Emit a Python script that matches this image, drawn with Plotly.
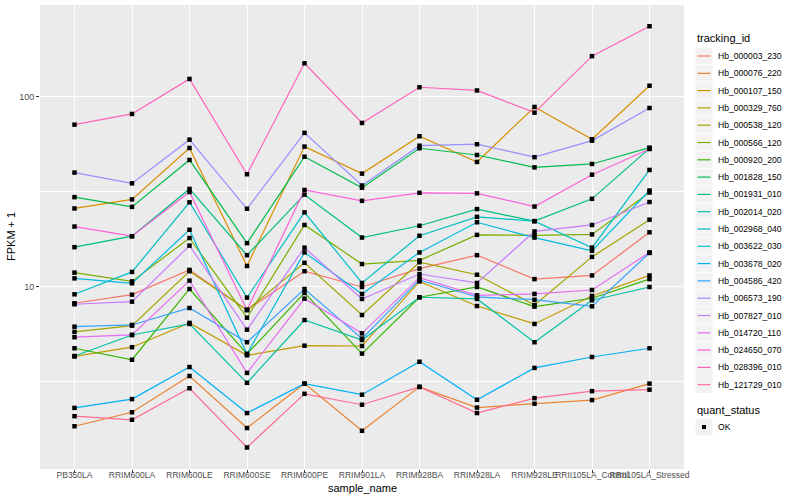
import plotly.graph_objects as go

categories = ["PB350LA", "RRIM600LA", "RRIM600LE", "RRIM600SE", "RRIM600PE", "RRIM901LA",
              "RRIM928BA", "RRIM928LA", "RRIM928LE", "RRII105LA_Control", "RRII105LA_Stressed"]

Hb_000003_230 = [8.21, 9.11, 12.3, 7.57, 12.1, 10.0, 12.5, 14.7, 11.0, 11.5, 19.4]
Hb_000076_220 = [1.85, 2.19, 3.40, 1.81, 3.10, 1.75, 2.98, 2.32, 2.43, 2.54, 3.10]
Hb_000107_150 = [25.9, 28.9, 53.9, 12.9, 54.8, 39.5, 62.1, 45.5, 88.6, 59.9, 114.6]
Hb_000329_760 = [4.31, 4.82, 6.47, 4.37, 4.91, 4.89, 10.7, 7.94, 6.39, 8.97, 11.5]
Hb_000538_120 = [5.80, 6.26, 12.1, 7.57, 13.4, 7.12, 13.5, 11.6, 8.04, 14.4, 22.6]
Hb_000566_120 = [11.9, 10.7, 18.1, 6.89, 21.2, 13.2, 13.8, 18.8, 18.7, 18.9, 31.4]
Hb_000920_200 = [4.76, 4.14, 9.76, 4.44, 9.30, 4.46, 8.83, 10.0, 7.88, 8.72, 11.0]
Hb_001828_150 = [29.7, 26.4, 46.6, 17.0, 48.5, 33.3, 53.7, 49.5, 42.6, 44.4, 54.1]
Hb_001931_010 = [16.2, 18.5, 32.8, 14.7, 30.6, 18.2, 21.0, 25.7, 22.2, 29.1, 53.6]
Hb_002014_020 = [4.33, 5.59, 6.39, 3.13, 6.70, 5.26, 8.83, 8.65, 5.12, 8.51, 10.0]
Hb_002968_040 = [9.15, 12.0, 27.9, 8.79, 24.7, 10.5, 18.6, 23.4, 22.2, 16.1, 41.3]
Hb_003622_030 = [11.1, 10.45, 20.0, 4.44, 15.2, 9.19, 15.2, 21.9, 18.2, 15.5, 32.2]
Hb_003678_020 = [2.31, 2.57, 3.79, 2.17, 3.10, 2.71, 4.04, 2.55, 3.75, 4.28, 4.76]
Hb_004586_420 = [6.18, 6.31, 7.75, 5.12, 9.76, 5.35, 10.9, 8.86, 8.57, 7.91, 15.1]
Hb_006573_190 = [40.0, 35.1, 59.6, 25.8, 64.7, 34.2, 55.4, 56.4, 48.2, 58.9, 87.5]
Hb_007827_010 = [8.11, 8.37, 16.5, 5.96, 16.1, 8.65, 11.7, 10.5, 19.6, 21.2, 28.0]
Hb_014720_110 = [5.44, 5.59, 10.8, 3.53, 8.68, 5.70, 11.2, 9.04, 9.19, 9.64, 15.2]
Hb_024650_070 = [20.8, 18.5, 31.6, 7.57, 32.4, 28.4, 31.3, 31.1, 26.5, 39.0, 53.2]
Hb_028396_010 = [71.5, 81.4, 124.4, 39.2, 150.4, 73.0, 112.5, 108.2, 82.7, 164.0, 235.6]
Hb_121729_010 = [2.09, 2.00, 2.93, 1.43, 2.74, 2.40, 2.98, 2.17, 2.60, 2.83, 2.88]

series = {
    "Hb_000003_230": Hb_000003_230, "Hb_000076_220": Hb_000076_220,
    "Hb_000107_150": Hb_000107_150, "Hb_000329_760": Hb_000329_760,
    "Hb_000538_120": Hb_000538_120, "Hb_000566_120": Hb_000566_120,
    "Hb_000920_200": Hb_000920_200, "Hb_001828_150": Hb_001828_150,
    "Hb_001931_010": Hb_001931_010, "Hb_002014_020": Hb_002014_020,
    "Hb_002968_040": Hb_002968_040, "Hb_003622_030": Hb_003622_030,
    "Hb_003678_020": Hb_003678_020, "Hb_004586_420": Hb_004586_420,
    "Hb_006573_190": Hb_006573_190, "Hb_007827_010": Hb_007827_010,
    "Hb_014720_110": Hb_014720_110, "Hb_024650_070": Hb_024650_070,
    "Hb_028396_010": Hb_028396_010, "Hb_121729_010": Hb_121729_010,
}

colors = ["#F8766D", "#EA8331", "#D89000", "#C09B00", "#A3A500", "#7CAE00", "#39B600",
          "#00BB4E", "#00BF7D", "#00C1A3", "#00BFC4", "#00BAE0", "#00B0F6", "#35A2FF",
          "#9590FF", "#C77CFF", "#E76BF3", "#FA62DB", "#FF62BC", "#FF6C91"]

FONT = "Liberation Sans"
W, H = 800, 500
L, R, T, B = 40, 116, 5, 31
PW, PH = W - L - R, H - T - B


def px(x):
    return (x - L) / PW


def py(y):
    return (H - B - y) / PH


fig = go.Figure()

for (name, vals), col in zip(series.items(), colors):
    fig.add_trace(go.Scatter(x=categories, y=vals, mode="lines", name=name,
                             line=dict(color=col, width=1.2), showlegend=False))

all_x, all_y = [], []
for vals in series.values():
    all_x += categories
    all_y += vals
fig.add_trace(go.Scatter(x=all_x, y=all_y, mode="markers", name="OK",
                         marker=dict(color="black", symbol="square", size=4.5),
                         showlegend=False))

shapes, annos = [], []
# tracking_id legend (drawn manually for ggplot-like spacing)
annos.append(dict(x=px(695), y=py(38), xref="paper", yref="paper", text="tracking_id",
                  showarrow=False, xanchor="left", yanchor="middle",
                  font=dict(size=11, color="black", family=FONT)))
step = 17.3
for i, (name, col) in enumerate(zip(series.keys(), colors)):
    yc = 56 + i * step
    shapes.append(dict(type="rect", xref="paper", yref="paper",
                       x0=px(695.5), x1=px(712.5), y0=py(yc - 8.3), y1=py(yc + 8.3),
                       fillcolor="#F2F2F2", line=dict(width=0), layer="above"))
    shapes.append(dict(type="line", xref="paper", yref="paper",
                       x0=px(697.5), x1=px(710.5), y0=py(yc), y1=py(yc),
                       line=dict(color=col, width=1.2), layer="above"))
    annos.append(dict(x=px(716), y=py(yc), xref="paper", yref="paper", text=name,
                      showarrow=False, xanchor="left", yanchor="middle",
                      font=dict(size=8.6, color="black", family=FONT)))

# quant_status legend
annos.append(dict(x=px(695), y=py(410), xref="paper", yref="paper", text="quant_status",
                  showarrow=False, xanchor="left", yanchor="middle",
                  font=dict(size=11, color="black", family=FONT)))
shapes.append(dict(type="rect", xref="paper", yref="paper",
                   x0=px(695.5), x1=px(712.5), y0=py(427 - 8.3), y1=py(427 + 8.3),
                   fillcolor="#F2F2F2", line=dict(width=0), layer="above"))
shapes.append(dict(type="rect", xref="paper", yref="paper",
                   x0=px(702), x1=px(706), y0=py(429), y1=py(425),
                   fillcolor="black", line=dict(width=0), layer="above"))
annos.append(dict(x=px(716), y=py(427), xref="paper", yref="paper", text="OK",
                  showarrow=False, xanchor="left", yanchor="middle",
                  font=dict(size=8.6, color="black", family=FONT)))

# axis titles
annos.append(dict(x=px(362), y=py(488), xref="paper", yref="paper", text="sample_name",
                  showarrow=False, xanchor="center", yanchor="middle",
                  font=dict(size=11, color="black", family=FONT)))
annos.append(dict(x=px(11), y=py(237), xref="paper", yref="paper", text="FPKM + 1",
                  showarrow=False, xanchor="center", yanchor="middle", textangle=-90,
                  font=dict(size=11, color="black", family=FONT)))

fig.update_layout(
    width=W, height=H,
    margin=dict(l=L, r=R, t=T, b=B, autoexpand=False),
    paper_bgcolor="white", plot_bgcolor="#EBEBEB",
    font=dict(family=FONT, size=9, color="#4D4D4D"),
    showlegend=False, shapes=shapes, annotations=annos,
)

fig.update_xaxes(type="category", categoryorder="array", categoryarray=categories,
                 range=[-0.6, len(categories) - 0.4], showgrid=True, gridcolor="white",
                 gridwidth=1.1, zeroline=False, ticks="outside", ticklen=3,
                 tickcolor="#333333", tickangle=0, automargin=False,
                 ticklabelstandoff=-5,
                 tickfont=dict(size=8.5, color="#4D4D4D"))

fig.update_yaxes(type="log", range=[0.042, 2.484], tickvals=[10, 100], ticktext=["10", "100"],
                 showgrid=True, gridcolor="white", gridwidth=1.1, zeroline=False,
                 ticks="outside", ticklen=3, tickcolor="#333333", automargin=False,
                 tickfont=dict(size=9, color="#4D4D4D"),
                 minor=dict(tickvals=[3.1623, 31.623, 316.23], showgrid=True,
                            gridcolor="white", gridwidth=0.55, ticks=""))

fig.write_html("out.html", config={"displayModeBar": False},
               post_script="document.body.style.margin='0';document.body.style.overflow='hidden';")
